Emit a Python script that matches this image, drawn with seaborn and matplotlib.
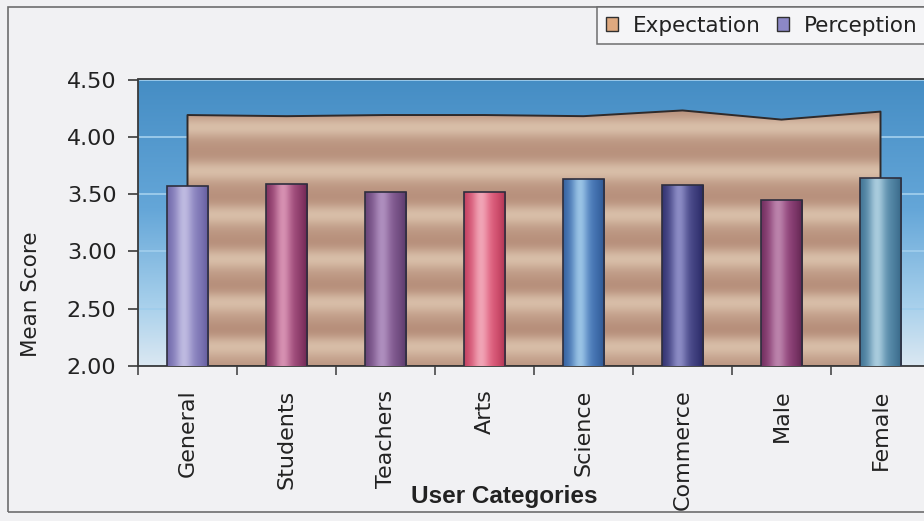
import numpy as np
import pandas as pd
import matplotlib
matplotlib.use("Agg")
import matplotlib.pyplot as plt
import seaborn as sns
from matplotlib.colors import to_rgb, LinearSegmentedColormap
from matplotlib.patches import Patch, Rectangle

# ---- data ----
categories = ["General", "Students", "Teachers", "Arts", "Science", "Commerce", "Male", "Female"]
expectation = [4.19, 4.18, 4.19, 4.19, 4.18, 4.23, 4.15, 4.22]
perception = [3.57, 3.59, 3.52, 3.52, 3.63, 3.58, 3.45, 3.64]
y_ticks = [2.00, 2.50, 3.00, 3.50, 4.00, 4.50]

# per-bar cylinder shading: body, highlight, shadow
bar_body = ["#8d86c2", "#a34d7d", "#845c93", "#e2607f", "#4c7dbd", "#4b4b8c", "#93447c", "#5b8fae"]
bar_light = ["#c4c0e4", "#dc98b8", "#b394c3", "#f3acbc", "#a2cbea", "#9393cb", "#c08ab1", "#b2d3e3"]
bar_shadow = ["#625a9c", "#6c2450", "#583868", "#ad3150", "#2d5590", "#272762", "#5e244e", "#366686"]

sns.set_theme(style="white")
plt.rcParams["font.family"] = ["DejaVu Sans"]

W, H = 924, 521
fig = plt.figure(figsize=(W / 100, H / 100), dpi=100, facecolor="#f1f1f3")
ax = fig.add_axes([138 / W, 155 / H, 792 / W, 286.5 / H])

df = pd.DataFrame({"category": categories, "perception": perception})
sns.barplot(data=df, x="category", y="perception", ax=ax, width=0.42,
            color="#8d86c2", saturation=1, edgecolor="#2e2e3e", linewidth=1.2,
            zorder=3)

xpos = np.arange(len(categories))


def cylinder(body, light, shadow, n=64):
    t = np.linspace(0, 1, n)
    b, l, s = (np.array(to_rgb(c)) for c in (body, light, shadow))
    hi = 0.9 * np.exp(-((t - 0.4) / 0.2) ** 2)
    edge = np.clip(np.abs(t - 0.45) / 0.55, 0, 1) ** 2.2
    col = b[None, :] * (1 - hi[:, None]) + l[None, :] * hi[:, None]
    col = col * (1 - edge[:, None]) + s[None, :] * edge[:, None]
    return np.clip(col, 0, 1)


# gradient fill inside every bar
for bar, c_b, c_l, c_s in zip(ax.patches, bar_body, bar_light, bar_shadow):
    x0, w, h = bar.get_x(), bar.get_width(), bar.get_height()
    im = ax.imshow(cylinder(c_b, c_l, c_s)[None, :, :], extent=[x0, x0 + w, 2.0, h],
                   aspect="auto", origin="lower", interpolation="bicubic", zorder=3.1)
    im.set_clip_path(bar)
    bar.set_facecolor("none")
    bar.set_zorder(3.2)

# plot-area background gradient
bg_cmap = LinearSegmentedColormap.from_list(
    "bg", [(0.0, "#dbe8f2"), (0.22, "#a6cfeb"), (0.55, "#64a6d8"), (1.0, "#458dc4")])
ax.imshow(np.linspace(0, 1, 256)[:, None], extent=[-0.5, 7.5, 2.0, 4.5], cmap=bg_cmap,
          aspect="auto", origin="lower", interpolation="bicubic", zorder=0)

# expectation area with soft banded texture
area = ax.fill_between(xpos, 2.0, expectation, facecolor="none", edgecolor="#2f2a2a",
                       linewidth=1.4, zorder=2)
yy = np.linspace(2.0, 4.5, 700)
w1 = 0.5 + 0.5 * np.cos(2 * np.pi * (yy - 3.885) / 0.385)
w2 = 0.5 + 0.5 * np.cos(2 * np.pi * (yy - 3.80) / 0.19)
mix = np.clip(0.85 * w1 + 0.15 * w2, 0, 1)
c_light = np.array(to_rgb("#d8bea8"))
c_dark = np.array(to_rgb("#b48b77"))
tex = c_light[None, :] * (1 - mix[:, None]) + c_dark[None, :] * mix[:, None]
tex_im = ax.imshow(tex[:, None, :], extent=[0, 7, 2.0, 4.5], aspect="auto",
                   origin="lower", interpolation="bilinear", zorder=1.5)
tex_im.set_clip_path(area.get_paths()[0], ax.transData)

# axes, grid and ticks
ax.set_xlim(-0.5, 7.5)
ax.set_ylim(2.0, 4.5)
ax.set_axisbelow(True)
ax.yaxis.grid(True, color="#9fcdec", linewidth=1.3)
ax.xaxis.grid(False)
for sp in ax.spines.values():
    sp.set_color("#3a3a3a")
    sp.set_linewidth(1.3)

ax.set_yticks(y_ticks)
ax.set_yticklabels([f"{v:.2f}" for v in y_ticks])
ax.tick_params(axis="y", which="major", left=True, length=7.5, width=1.2,
               color="#3a3a3a", pad=8, labelsize=16, labelcolor="#222222")

ax.set_xticks(xpos)
ax.set_xticklabels(categories, rotation=90, fontsize=16, color="#222222")
ax.set_xticks(np.arange(-0.5, 8, 1), minor=True)
ax.tick_params(axis="x", which="major", bottom=True, length=0, pad=17)
ax.tick_params(axis="x", which="minor", bottom=True, length=6.5, width=1.1, color="#3a3a3a")

ax.set_xlabel("User Categories", fontsize=17.5, fontweight="bold",
              family=["Liberation Sans", "DejaVu Sans"], color="#222222")
ax.xaxis.set_label_coords(0.463, -0.457)
ax.xaxis.label.set_va("center")
ax.set_ylabel("Mean Score", fontsize=15.5, color="#222222")
ax.yaxis.set_label_coords(-0.135, 0.251)
ax.yaxis.label.set_va("center")

# legend
handles = [Patch(facecolor="#dfa97f", edgecolor="#303030", linewidth=1),
           Patch(facecolor="#8c88c6", edgecolor="#303030", linewidth=1)]
leg = fig.legend(handles, ["Expectation", "Perception"], loc="upper left",
                 bbox_to_anchor=(597 / W, 1 - 7 / H), ncol=2, fontsize=15.5,
                 frameon=True, fancybox=False, framealpha=1, facecolor="#f5f5f7",
                 edgecolor="#6e6e6e", handlelength=0.56, handleheight=0.56,
                 handletextpad=0.7, columnspacing=0.75, borderpad=0.4,
                 borderaxespad=0)
leg.get_frame().set_linewidth(1.1)
for t in leg.get_texts():
    t.set_color("#222222")

# chart frame
fig.add_artist(Rectangle((8 / W, 9 / H), 1.0, (514 - 9) / H, transform=fig.transFigure,
                         fill=False, edgecolor="#6e6e6e", linewidth=1.2))

fig.savefig("out.png", dpi=100, facecolor=fig.get_facecolor())
